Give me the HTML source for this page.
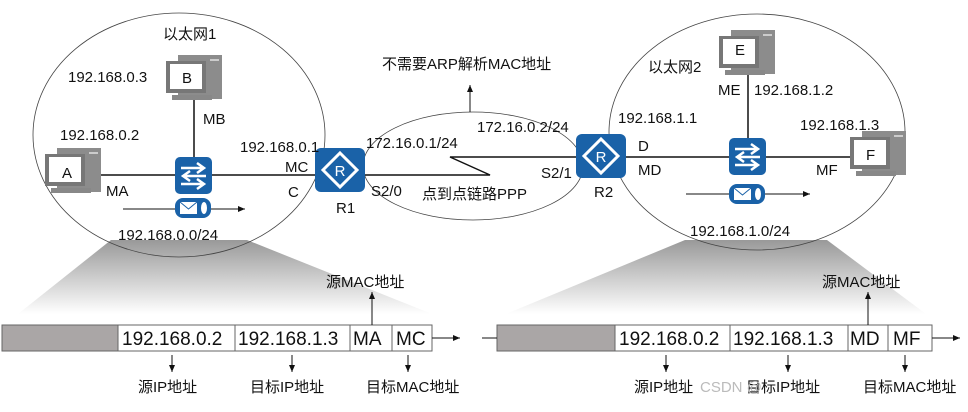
<!DOCTYPE html>
<html><head><meta charset="utf-8"><style>
body{margin:0;background:#fff;}
svg text{font-family:"Liberation Sans","Noto Sans CJK SC",sans-serif;font-size:15px;fill:#111;}
</style></head><body>
<svg width="968" height="407" viewBox="0 0 968 407" xmlns="http://www.w3.org/2000/svg">
<defs>
<linearGradient id="g" x1="0" y1="0" x2="0" y2="1"><stop offset="0" stop-color="#999"/><stop offset="1" stop-color="#fff"/></linearGradient>
<marker id="ar" markerWidth="8" markerHeight="8" refX="7" refY="4" orient="auto"><path d="M0,1 L7,4 L0,7 Z" fill="#111"/></marker>
<g id="pc"><rect x="12" y="0" width="44" height="44" fill="#8c8c8c"/><rect x="0" y="6" width="40" height="32" fill="#777"/><rect x="4" y="9" width="32" height="25" fill="#fff"/><rect x="6" y="40" width="40" height="5" fill="#888"/><rect x="44" y="4" width="9" height="2" fill="#ccc"/></g>
<g id="sw"><rect x="0" y="0" width="37" height="37" rx="5" fill="#1a62a8"/><path d="M6,11 H28 M22,6 L29,11 L22,16 M31,19 H9 M15,14 L8,19 L15,24 M6,27 H28 M22,22 L29,27 L22,32" stroke="#fff" stroke-width="2.5" fill="none"/></g>
<g id="rt"><rect x="0" y="0" width="50" height="44" rx="6" fill="#1a62a8"/><path d="M25,5 L42,22 L25,39 L8,22 Z" fill="none" stroke="#fff" stroke-width="3"/><text x="25" y="28" text-anchor="middle" style="fill:#fff;font-size:15px">R</text></g>
<g id="env"><rect x="0" y="0" width="36" height="20" rx="8" fill="#1a62a8"/><rect x="5" y="4" width="17" height="12" fill="#fff"/><path d="M5,4 L13.5,11 L22,4" stroke="#1a62a8" fill="none"/><ellipse cx="29" cy="10" rx="3" ry="6" fill="#fff"/></g>
</defs>
<path d="M111,240 L247,240 L432,314 L18,314 Z" fill="url(#g)"/>
<path d="M685,240 L827,240 L926,314 L506,314 Z" fill="url(#g)"/>
<ellipse cx="179" cy="135" rx="146" ry="122" fill="none" stroke="#444" stroke-width="0.8"/>
<ellipse cx="473" cy="166" rx="110" ry="54" fill="none" stroke="#444" stroke-width="0.8"/>
<ellipse cx="757" cy="132" rx="148" ry="118" fill="none" stroke="#444" stroke-width="0.8"/>
<g stroke="#111" stroke-width="1.5" fill="none">
<path d="M100,175 H315 M194,100 V158"/>
<path d="M365,175 H490 L450,157 H577"/>
<path d="M626,157 H850 M748,73 V138"/>
</g>
<g stroke="#111" stroke-width="1" fill="none">
<path d="M123,209 H245" marker-end="url(#ar)"/>
<path d="M686,194 H810" marker-end="url(#ar)"/>
<path d="M470,112 V85" marker-end="url(#ar)"/>
</g>
<use href="#pc" x="45" y="148"/><text x="62" y="178" style="font-size:15px">A</text>
<use href="#pc" x="166" y="55"/><text x="182" y="83" style="font-size:15px">B</text>
<use href="#pc" x="719" y="30"/><text x="735" y="55" style="font-size:15px">E</text>
<use href="#pc" x="850" y="131"/><text x="866" y="160" style="font-size:15px">F</text>
<use href="#sw" x="175" y="157"/><use href="#sw" x="729" y="138"/>
<use href="#env" x="175" y="198"/><use href="#env" x="729" y="184"/>
<use href="#rt" x="315" y="148"/><use href="#rt" x="576" y="134"/>
<text x="163" y="39">以太网1</text>
<text x="68" y="82">192.168.0.3</text>
<text x="203" y="124">MB</text>
<text x="60" y="140">192.168.0.2</text>
<text x="240" y="152">192.168.0.1</text>
<text x="285" y="172">MC</text>
<text x="106" y="196">MA</text>
<text x="288" y="197">C</text>
<text x="336" y="213">R1</text>
<text x="118" y="240">192.168.0.0/24</text>
<text x="366" y="148">172.16.0.1/24</text>
<text x="371" y="196">S2/0</text>
<text x="422" y="199">点到点链路PPP</text>
<text x="382" y="69">不需要ARP解析MAC地址</text>
<text x="477" y="132">172.16.0.2/24</text>
<text x="541" y="178">S2/1</text>
<text x="594" y="197">R2</text>
<text x="648" y="72">以太网2</text>
<text x="718" y="95">ME</text>
<text x="754" y="95">192.168.1.2</text>
<text x="618" y="123">192.168.1.1</text>
<text x="800" y="130">192.168.1.3</text>
<text x="638" y="151">D</text>
<text x="638" y="175">MD</text>
<text x="816" y="175">MF</text>
<text x="690" y="236">192.168.1.0/24</text>
<g stroke="#666" stroke-width="1">
<rect x="2" y="325" width="116" height="26" fill="#aaa6a6"/>
<rect x="118" y="325" width="314" height="26" fill="#fff"/>
<path d="M235,325 V351 M350,325 V351 M392,325 V351"/>
<rect x="497" y="325" width="118" height="26" fill="#aaa6a6"/>
<rect x="615" y="325" width="317" height="26" fill="#fff"/>
<path d="M730,325 V351 M848,325 V351 M888,325 V351"/>
</g>
<g>
<text x="122" y="345" style="font-size:19px">192.168.0.2</text>
<text x="238" y="345" style="font-size:19px">192.168.1.3</text>
<text x="353" y="345" style="font-size:19px">MA</text>
<text x="396" y="345" style="font-size:19px">MC</text>
<text x="619" y="345" style="font-size:19px">192.168.0.2</text>
<text x="733" y="345" style="font-size:19px">192.168.1.3</text>
<text x="850" y="345" style="font-size:19px">MD</text>
<text x="893" y="345" style="font-size:19px">MF</text>
</g>
<g stroke="#111" stroke-width="1" fill="none">
<path d="M432,338 H460" marker-end="url(#ar)"/>
<path d="M482,338 H497"/>
<path d="M932,338 H960" marker-end="url(#ar)"/>
<path d="M372,325 V292" marker-end="url(#ar)"/>
<path d="M868,325 V292" marker-end="url(#ar)"/>
<path d="M172,355 V372" marker-end="url(#ar)"/>
<path d="M292,355 V372" marker-end="url(#ar)"/>
<path d="M408,355 V372" marker-end="url(#ar)"/>
<path d="M666,355 V372" marker-end="url(#ar)"/>
<path d="M788,355 V372" marker-end="url(#ar)"/>
<path d="M905,355 V372" marker-end="url(#ar)"/>
</g>
<text x="326" y="287">源MAC地址</text>
<text x="822" y="287">源MAC地址</text>
<text x="138" y="392">源IP地址</text>
<text x="250" y="392">目标IP地址</text>
<text x="366" y="392">目标MAC地址</text>
<text x="634" y="392">源IP地址</text>
<text x="746" y="392">目标IP地址</text>
<text x="863" y="392">目标MAC地址</text>
<text x="700" y="392" style="fill:#bbb">CSDN @</text>
</svg>
</body></html>
